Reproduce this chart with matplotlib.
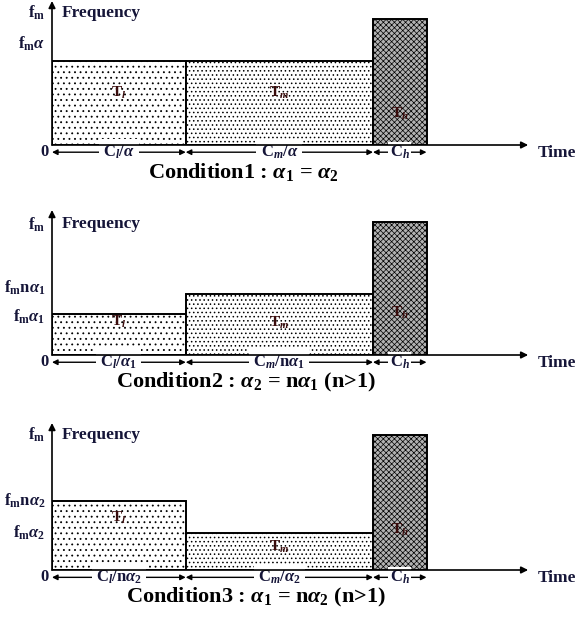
import numpy as np
import matplotlib

matplotlib.use("Agg")
import matplotlib.pyplot as plt

plt.rcParams["font.family"] = ["Liberation Serif", "DejaVu Serif"]
plt.rcParams["font.weight"] = "bold"
plt.rcParams["mathtext.fontset"] = "custom"
plt.rcParams["mathtext.rm"] = "Liberation Serif:bold"
plt.rcParams["mathtext.it"] = "Liberation Serif:italic:bold"
plt.rcParams["mathtext.bf"] = "Liberation Serif:bold"

# segment lengths on the time axis (same drawing for all three conditions)
seg_widths = [2.5, 3.5, 1.0]
seg_names = [r"T$_\mathit{l}$", r"T$_\mathit{m}$", r"T$_\mathit{h}$"]

# frequency of each segment, relative to f_m
heights_c1 = [0.64, 0.64, 0.96]
heights_c2 = [0.31, 0.46, 1.01]
heights_c3 = [0.52, 0.28, 1.01]

# y labels and where they sit
yticks_c1 = [1.01, 0.77]
ylabels_c1 = [r"f$_\mathrm{m}$", r"f$_\mathrm{m}$$\alpha$"]
yticks_c2 = [0.99, 0.51, 0.29]
ylabels_c2 = [r"f$_\mathrm{m}$", r"f$_\mathrm{m}$n$\alpha_1$", r"f$_\mathrm{m}$$\alpha_1$"]
yticks_c3 = [1.01, 0.52, 0.28]
ylabels_c3 = [r"f$_\mathrm{m}$", r"f$_\mathrm{m}$n$\alpha_2$", r"f$_\mathrm{m}$$\alpha_2$"]

# duration labels under each segment
dur_c1 = [r"C$_\mathit{l}$/$\alpha$", r"C$_\mathit{m}$/$\alpha$", r"C$_\mathit{h}$"]
dur_c2 = [r"C$_\mathit{l}$/$\alpha_1$", r"C$_\mathit{m}$/n$\alpha_1$", r"C$_\mathit{h}$"]
dur_c3 = [r"C$_\mathit{l}$/n$\alpha_2$", r"C$_\mathit{m}$/$\alpha_2$", r"C$_\mathit{h}$"]

titles = [
    r"Condition1 : $\alpha_1$ = $\alpha_2$",
    r"Condition2 : $\alpha_2$ = n$\alpha_1$ (n>1)",
    r"Condition3 : $\alpha_1$ = n$\alpha_2$ (n>1)",
]
title_x = [3.57, 3.63, 3.81]

# where the T labels go inside the bars
tlabel_y = [[0.40, 0.40, 0.24], [0.25, 0.24, 0.32], [0.39, 0.17, 0.30]]

hatches = ["...", "....", "xxxxxx"]
faces = ["white", "white", "#b2b2b2"]
hatch_lw = [0.6, 0.6, 0.5]
TXT = "#151538"

W, H = 576, 617
fig = plt.figure(figsize=(W / 100, H / 100), dpi=100)

panels = [
    (heights_c1, yticks_c1, ylabels_c1, dur_c1),
    (heights_c2, yticks_c2, ylabels_c2, dur_c2),
    (heights_c3, yticks_c3, ylabels_c3, dur_c3),
]
baselines = [145, 355, 570]
tops = [1, 210, 423]

XMAX = 524 / 53.5
YMAX = 1.1

for k, (heights, yt, yl, durs) in enumerate(panels):
    base, top = baselines[k], tops[k]
    ax = fig.add_axes([52 / W, 1 - base / H, 524 / W, (base - top) / H])
    ax.set_xlim(0, XMAX)
    ax.set_ylim(0, YMAX)
    ax.axis("off")

    lefts = np.concatenate([[0], np.cumsum(seg_widths)[:-1]])
    for i in range(3):
        with plt.rc_context({"hatch.linewidth": hatch_lw[i]}):
            bars = ax.bar(lefts[i], heights[i], width=seg_widths[i], align="edge",
                          color=faces[i], edgecolor="black", hatch=hatches[i],
                          linewidth=1.4, zorder=2)
            for b in bars:
                if hasattr(b, "set_hatch_linewidth"):
                    b.set_hatch_linewidth(hatch_lw[i])
        ax.text(lefts[i] + seg_widths[i] / 2, tlabel_y[k][i], seg_names[i],
                ha="center", va="center", fontsize=11, color="#3a0c0c", zorder=3)

    # axes arrows
    ax.annotate("", xy=(0, YMAX), xytext=(0, 0),
                arrowprops=dict(arrowstyle="-|>", lw=1.2, color="black",
                                mutation_scale=10, shrinkA=0, shrinkB=0),
                annotation_clip=False)
    ax.annotate("", xy=(8.9, 0), xytext=(0, 0),
                arrowprops=dict(arrowstyle="-|>", lw=1.2, color="black",
                                mutation_scale=10, shrinkA=0, shrinkB=0),
                annotation_clip=False, zorder=4)
    ax.text(9.07, -0.06, "Time", ha="left", va="center", fontsize=12.5, color=TXT)
    ax.text(0.19, yt[0], "Frequency", ha="left", va="center", fontsize=12.5, color=TXT)

    for y, lab in zip(yt, yl):
        ax.text(-0.12, y, lab, ha="right", va="center", fontsize=12, color=TXT)

    # duration arrows under the time axis
    ya = -0.055
    ax.text(-0.07, ya, "0", ha="right", va="center", fontsize=12, color=TXT)
    for i in range(3):
        x0, x1 = lefts[i], lefts[i] + seg_widths[i]
        ax.annotate("", xy=(x1, ya), xytext=(x0, ya),
                    arrowprops=dict(arrowstyle="<|-|>", lw=1.0, color="black",
                                    mutation_scale=8, shrinkA=0, shrinkB=0),
                    annotation_clip=False)
        pad = 1.0 if i == 2 else 3.0
        ax.text((x0 + x1) / 2, ya, durs[i], ha="center", va="center",
                fontsize=12, color=TXT,
                bbox=dict(facecolor="white", edgecolor="none", pad=pad))

    ax.text(title_x[k], -0.205, titles[k], ha="center", va="center", fontsize=16,
            color="black")

fig.savefig("out.png", dpi=100)
